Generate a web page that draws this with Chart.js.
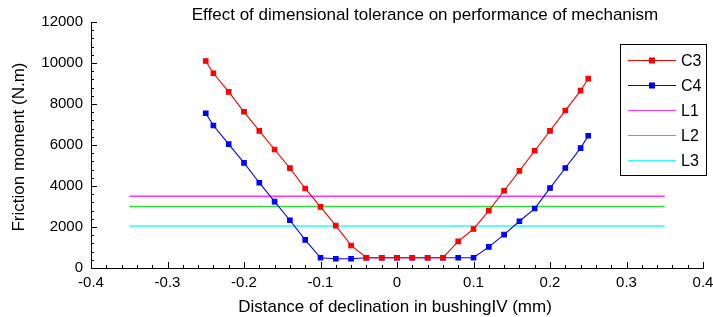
<!DOCTYPE html>
<html>
<head>
<meta charset="utf-8">
<script src="https://cdn.jsdelivr.net/npm/chart.js@4"></script>
<style>
    html, body { margin: 0; padding: 0; background: #fff; }
    #wrap { width: 713px; height: 317px; }
</style>
</head>
<body>
<div id="wrap"><canvas id="chart" width="713" height="317"></canvas></div>
<script>
// Values
const declination = [-0.25, -0.24, -0.22, -0.20, -0.18, -0.16, -0.14, -0.12, -0.10, -0.08, -0.06, -0.04, -0.02,
    0, 0.02, 0.04, 0.06, 0.08, 0.10, 0.12, 0.14, 0.16, 0.18, 0.20, 0.22, 0.24, 0.25];
const c3Moment = [10100, 9500, 8590, 7620, 6690, 5780, 4870, 3880, 2980, 2070, 1100, 500, 500,
    500, 500, 500, 500, 1300, 1900, 2800, 3770, 4740, 5720, 6690, 7680, 8650, 9240];
const c4Moment = [7550, 6950, 6040, 5130, 4160, 3240, 2330, 1370, 500, 450, 450, 500, 500,
    500, 500, 500, 500, 500, 500, 1030, 1630, 2280, 2900, 3900, 4880, 5850, 6450];
const limitRange = [-0.35, 0.35];
const l1Moment = [3500, 3500];
const l2Moment = [3000, 3000];
const l3Moment = [2050, 2050];
const xTicks = [-0.4, -0.3, -0.2, -0.1, 0, 0.1, 0.2, 0.3, 0.4];
const yTicks = [0, 2000, 4000, 6000, 8000, 10000, 12000];

const FONT = '"Liberation Sans", Arial, sans-serif';

function toPoints(xs, ys) {
    return xs.map((x, i) => ({ x, y: ys[i] }));
}

function formatTick(value) {
    const v = Math.round(value * 10) / 10;
    return v === 0 ? '0' : String(v);
}

// inward tick marks, major and minor
const tickMarks = {
    id: 'tickMarks',
    afterDraw(chart) {
        const { ctx, chartArea, scales } = chart;
        const xs = scales.x;
        const ys = scales.y;
        ctx.save();
        ctx.strokeStyle = '#000';
        ctx.lineWidth = 1;
        ctx.beginPath();
        for (let i = 0; i <= 40; i++) {
            const v = -0.4 + i * 0.02;
            const px = Math.round(xs.getPixelForValue(v)) + 0.5;
            const len = i % 5 === 0 ? 6 : 3;
            ctx.moveTo(px, chartArea.bottom);
            ctx.lineTo(px, chartArea.bottom - len);
        }
        for (let i = 0; i <= 30; i++) {
            const v = i * 400;
            const py = Math.round(ys.getPixelForValue(v)) + 0.5;
            const len = i % 5 === 0 ? 6 : 3;
            ctx.moveTo(chartArea.left, py);
            ctx.lineTo(chartArea.left + len, py);
        }
        ctx.stroke();
        ctx.restore();
    }
};

// title, axis titles and boxed legend inside the plot
const decorations = {
    id: 'decorations',
    afterDraw(chart) {
        const { ctx } = chart;
        ctx.save();
        ctx.fillStyle = '#000';
        ctx.font = '17px ' + FONT;
        ctx.textAlign = 'center';
        ctx.textBaseline = 'middle';
        ctx.fillText('Effect of dimensional tolerance on performance of mechanism', 425, 15);
        ctx.fillText('Distance of declination in bushingIV (mm)', 395, 307);

        ctx.save();
        ctx.translate(19, 147);
        ctx.rotate(-Math.PI / 2);
        ctx.fillText('Friction moment (N.m)', 0, 0);
        ctx.restore();

        const box = { left: 620.5, top: 44.5, width: 86, height: 131 };
        ctx.fillStyle = '#fff';
        ctx.fillRect(box.left, box.top, box.width, box.height);
        ctx.strokeStyle = '#000';
        ctx.lineWidth = 1;
        ctx.strokeRect(box.left, box.top, box.width, box.height);

        ctx.font = '16px ' + FONT;
        ctx.textAlign = 'left';
        chart.data.datasets.forEach((ds, i) => {
            const y = 60.5 + i * 25;
            ctx.strokeStyle = ds.borderColor;
            ctx.lineWidth = 1.2;
            ctx.beginPath();
            ctx.moveTo(628, y);
            ctx.lineTo(676, y);
            ctx.stroke();
            if (ds.pointRadius > 0) {
                ctx.fillStyle = ds.pointBackgroundColor;
                ctx.fillRect(649, y - 3, 6, 6);
            }
            ctx.fillStyle = '#000';
            ctx.fillText(ds.label, 681, y + 1);
        });
        ctx.restore();
    }
};

function seriesDataset(label, color, values) {
    return {
        label,
        data: toPoints(declination, values),
        borderColor: color,
        backgroundColor: color,
        pointBackgroundColor: color,
        pointBorderColor: color,
        pointStyle: 'rect',
        pointRadius: 3.2,
        borderWidth: 1.1,
        tension: 0,
    };
}

function limitDataset(label, color, values) {
    return {
        label,
        data: toPoints(limitRange, values),
        borderColor: color,
        backgroundColor: color,
        pointRadius: 0,
        borderWidth: 1.3,
    };
}

new Chart(document.getElementById('chart'), {
    type: 'line',
    data: {
        datasets: [
            seriesDataset('C3', '#ff0000', c3Moment),
            seriesDataset('C4', '#0000ff', c4Moment),
            limitDataset('L1', '#ff33ff', l1Moment),
            limitDataset('L2', '#33dd33', l2Moment),
            limitDataset('L3', '#22ffff', l3Moment),
        ]
    },
    options: {
        responsive: false,
        animation: false,
        devicePixelRatio: 1,
        layout: { padding: { top: 22, right: 10, left: 0, bottom: 0 } },
        plugins: {
            legend: { display: false },
            title: { display: false },
            tooltip: { enabled: false },
        },
        scales: {
            x: {
                type: 'linear',
                min: -0.4,
                max: 0.4,
                afterBuildTicks(scale) {
                    scale.ticks = xTicks.map((value) => ({ value }));
                },
                afterFit(scale) {
                    scale.height = 49;
                    scale.paddingLeft = 0;
                    scale.paddingRight = 0;
                },
                grid: { display: false, drawTicks: false, tickLength: 0 },
                border: { display: true, color: '#000', width: 1 },
                ticks: {
                    color: '#000',
                    font: { family: FONT, size: 15 },
                    padding: 6,
                    maxRotation: 0,
                    callback: formatTick,
                },
            },
            y: {
                type: 'linear',
                min: 0,
                max: 12000,
                afterBuildTicks(scale) {
                    scale.ticks = yTicks.map((value) => ({ value }));
                },
                afterFit(scale) {
                    scale.width = 91;
                    scale.paddingTop = 0;
                    scale.paddingBottom = 0;
                },
                grid: { display: false, drawTicks: false, tickLength: 0 },
                border: { display: true, color: '#000', width: 1 },
                ticks: {
                    color: '#000',
                    font: { family: FONT, size: 15 },
                    padding: 8,
                    callback: (v) => String(v),
                },
            },
        },
    },
    plugins: [tickMarks, decorations],
});
</script>
</body>
</html>
